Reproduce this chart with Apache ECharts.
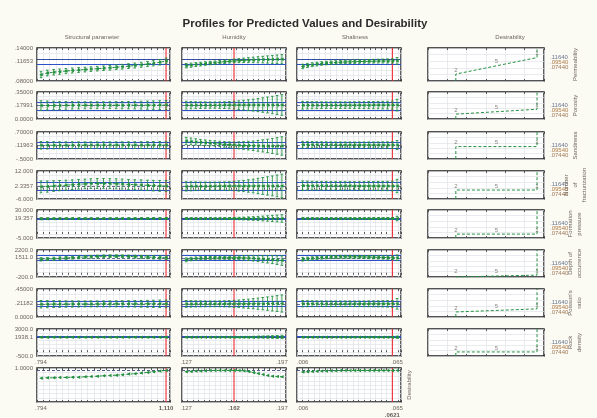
<!DOCTYPE html>
<html>
<head>
<meta charset="utf-8">
<script src="https://cdn.jsdelivr.net/npm/echarts@6/dist/echarts.min.js"></script>
<style>
html,body{margin:0;padding:0;background:#fbfaf3;}
#c{width:597px;height:418px;}
</style>
</head>
<body>
<div id="c"></div>
<script>
// ---- text ----
const chartTitle = 'Profiles for Predicted Values and Desirability';
const factorNames = ['Structural parameter', 'Humidity', 'Shaliness'];
const desirHeader = 'Desirability';
const responseNames = ['Permeability', 'Porosity', 'Sandiness', 'Number\nof\nfracturization',
  'Formation\npressure', 'Depth of\noccurrence', "Poisson's\nratio", 'Rock\ndensity'];

// ---- factor levels (21 steps each) ----
const xStructural = [0.794,0.810,0.826,0.841,0.857,0.873,0.889,0.905,0.920,0.936,0.952,0.968,0.984,0.999,1.015,1.031,1.047,1.063,1.078,1.094,1.110];
const xHumidity = [0.127,0.1305,0.134,0.1375,0.141,0.1445,0.148,0.1515,0.155,0.1585,0.162,0.1655,0.169,0.1725,0.176,0.1795,0.183,0.1865,0.190,0.1935,0.197];
const xShaliness = [0.006,0.00895,0.0119,0.01485,0.0178,0.02075,0.0237,0.02665,0.0296,0.03255,0.0355,0.03845,0.0414,0.04435,0.0473,0.05025,0.0532,0.05615,0.0591,0.06205,0.065];
const xCurrent = [1.110, 0.162, 0.0621];
const xCurrentText = ['1,110', '.162', '.0621'];
const xEndValues = [[0.794], [0.127, 0.197], [0.006, 0.065]];
const xEndText = [['.794'], ['.127', '.197'], ['.006', '.065']];

// ---- response axes ----
const yMin = [0.08, 0, -0.5, -6, -5, -200, 0, -500];
const yMax = [0.14, 0.35, 0.7, 12, 30, 2200, 0.45, 3000];
const yStep = [0.01, 0.05, 0.25, 3, 5, 400, 0.09, 500];
const yPred = [0.11653, 0.17991, 0.11963, 2.3357, 19.357, 1511.0, 0.21182, 1938.1];
const yText = [['.08000', '.11653', '.14000'], ['0.0000', '.17991', '.35000'], ['-.5000', '.11963', '.70000'],
  ['-6.000', '2.3357', '12.000'], ['-5.000', '19.357', '30.000'], ['-200.0', '1511.0', '2200.0'],
  ['0.0000', '.21182', '.45000'], ['-500.0', '1938.1', '3000.0']];
const predLow = [0.1112, 0.1120, -0.02, -0.66, 18.4, 1330, 0.17, 1870];
const predHigh = [0.1220, 0.2160, 0.26, 4.74, 20.3, 1690, 0.26, 2010];

// ---- predicted profiles and confidence half-widths ----
const permS = [0.0915,0.0945,0.0960,0.0970,0.0980,0.0990,0.1000,0.1008,0.1016,0.1024,0.1032,0.1040,0.1050,0.1060,0.1070,0.1082,0.1095,0.1108,0.1122,0.1140,0.1165];
const permSci = [0.0055,0.0052,0.0050,0.0048,0.0046,0.0045,0.0044,0.0043,0.0042,0.0042,0.0042,0.0042,0.0042,0.0043,0.0044,0.0045,0.0046,0.0047,0.0048,0.0050,0.0052];
const permH = [0.1078,0.1088,0.1098,0.1108,0.1118,0.1126,0.1134,0.1142,0.1150,0.1158,0.1165,0.1170,0.1175,0.1179,0.1183,0.1186,0.1189,0.1191,0.1193,0.1195,0.1196];
const permHci = [0.0040,0.0038,0.0036,0.0034,0.0032,0.0031,0.0030,0.0030,0.0031,0.0032,0.0034,0.0037,0.0041,0.0045,0.0050,0.0055,0.0060,0.0066,0.0072,0.0078,0.0084];
const permSh = [0.1065,0.1082,0.1097,0.1109,0.1119,0.1127,0.1133,0.1138,0.1142,0.1146,0.1149,0.1152,0.1154,0.1156,0.1158,0.1160,0.1162,0.1163,0.1164,0.1165,0.1166];
const permShci = [0.0040,0.0038,0.0036,0.0034,0.0033,0.0032,0.0031,0.0031,0.0031,0.0031,0.0031,0.0031,0.0032,0.0032,0.0033,0.0034,0.0035,0.0036,0.0038,0.0040,0.0060];

const poroS = [0.1740,0.1748,0.1755,0.1762,0.1768,0.1773,0.1777,0.1781,0.1784,0.1787,0.1789,0.1791,0.1793,0.1794,0.1795,0.1796,0.1797,0.1798,0.1798,0.1799,0.1799];
const poroSci = [0.062,0.058,0.055,0.052,0.050,0.048,0.047,0.046,0.045,0.045,0.045,0.045,0.046,0.047,0.048,0.049,0.051,0.053,0.055,0.057,0.060];
const poroH = [0.1790,0.1792,0.1794,0.1795,0.1796,0.1797,0.1798,0.1798,0.1799,0.1799,0.1799,0.1800,0.1801,0.1803,0.1805,0.1807,0.1810,0.1812,0.1815,0.1818,0.1820];
const poroHci = [0.050,0.047,0.045,0.043,0.042,0.041,0.041,0.042,0.044,0.047,0.051,0.056,0.062,0.069,0.077,0.085,0.094,0.103,0.113,0.123,0.134];
const poroSh = [0.1780,0.1783,0.1786,0.1788,0.1790,0.1792,0.1793,0.1794,0.1795,0.1796,0.1797,0.1797,0.1798,0.1798,0.1798,0.1799,0.1799,0.1799,0.1799,0.1799,0.1800];
const poroShci = [0.050,0.048,0.046,0.045,0.044,0.043,0.043,0.043,0.043,0.043,0.043,0.044,0.044,0.045,0.046,0.047,0.048,0.049,0.050,0.052,0.075];

const sandS = [0.108,0.110,0.112,0.113,0.114,0.115,0.116,0.117,0.117,0.118,0.118,0.118,0.119,0.119,0.119,0.119,0.119,0.120,0.120,0.120,0.1196];
const sandSci = [0.17,0.165,0.16,0.155,0.15,0.148,0.146,0.145,0.145,0.145,0.145,0.145,0.146,0.147,0.148,0.150,0.152,0.155,0.158,0.161,0.165];
const sandH = [0.300,0.280,0.260,0.240,0.222,0.205,0.190,0.170,0.150,0.135,0.1196,0.110,0.102,0.095,0.090,0.086,0.083,0.081,0.080,0.079,0.078];
const sandHci = [0.16,0.15,0.14,0.13,0.125,0.12,0.12,0.12,0.125,0.13,0.14,0.155,0.17,0.19,0.21,0.24,0.27,0.30,0.33,0.37,0.41];
const sandSh = [0.135,0.134,0.133,0.132,0.131,0.130,0.129,0.128,0.127,0.126,0.125,0.124,0.124,0.123,0.122,0.122,0.121,0.121,0.120,0.1196,0.119];
const sandShci = [0.15,0.145,0.14,0.137,0.135,0.133,0.132,0.131,0.131,0.131,0.131,0.132,0.133,0.134,0.135,0.137,0.139,0.141,0.144,0.147,0.20];

const fracS = [1.8,2.0,2.3,2.6,2.9,3.2,3.5,3.7,3.9,4.0,4.0,3.9,3.8,3.6,3.4,3.2,3.0,2.8,2.6,2.45,2.336];
const fracSci = [3.8,3.6,3.4,3.3,3.2,3.1,3.1,3.1,3.1,3.2,3.2,3.2,3.2,3.2,3.2,3.2,3.3,3.3,3.4,3.5,3.6];
const fracH = [2.1,2.15,2.2,2.22,2.25,2.27,2.29,2.31,2.32,2.33,2.336,2.34,2.35,2.36,2.37,2.38,2.39,2.40,2.41,2.42,2.43];
const fracHci = [3.0,2.9,2.8,2.7,2.65,2.6,2.6,2.65,2.7,2.8,3.0,3.3,3.6,4.0,4.4,4.9,5.4,5.9,6.4,7.0,7.6];
const fracSh = [2.6,2.58,2.56,2.54,2.52,2.50,2.48,2.47,2.46,2.45,2.44,2.43,2.42,2.41,2.40,2.39,2.38,2.37,2.36,2.336,2.33];
const fracShci = [3.0,2.9,2.8,2.75,2.7,2.7,2.7,2.7,2.7,2.7,2.7,2.7,2.7,2.75,2.8,2.85,2.9,2.95,3.0,3.1,4.3];

const pressS = [19.1,19.15,19.2,19.22,19.25,19.27,19.29,19.30,19.31,19.32,19.33,19.34,19.34,19.35,19.35,19.35,19.36,19.36,19.36,19.36,19.357];
const pressSci = [1.3,1.2,1.15,1.1,1.05,1.0,1.0,1.0,1.0,1.0,1.0,1.0,1.0,1.0,1.0,1.05,1.1,1.1,1.15,1.2,1.25];
const pressH = [19.30,19.31,19.32,19.33,19.34,19.35,19.35,19.36,19.36,19.36,19.357,19.36,19.37,19.38,19.39,19.40,19.41,19.42,19.43,19.44,19.45];
const pressHci = [1.2,1.1,1.05,1.0,1.0,1.0,1.0,1.05,1.1,1.2,1.3,1.5,1.7,2.0,2.3,2.6,3.0,3.4,3.8,4.2,4.7];
const pressSh = [19.40,19.40,19.39,19.39,19.38,19.38,19.38,19.37,19.37,19.37,19.37,19.36,19.36,19.36,19.36,19.36,19.36,19.36,19.36,19.357,19.36];
const pressShci = [1.1,1.05,1.0,1.0,1.0,1.0,1.0,1.0,1.0,1.0,1.0,1.0,1.0,1.0,1.0,1.0,1.05,1.1,1.15,1.2,2.8];

const depthS = [1370,1400,1430,1460,1490,1520,1550,1580,1600,1620,1640,1650,1650,1640,1630,1610,1590,1570,1550,1530,1511];
const depthSci = [150,140,135,130,125,120,120,120,120,120,120,120,120,120,120,125,130,135,140,145,150];
const depthH = [1330,1400,1440,1470,1490,1500,1505,1508,1510,1511,1511,1505,1495,1480,1460,1430,1400,1370,1340,1300,1260];
const depthHci = [170,155,145,135,130,125,125,130,135,145,155,170,190,210,235,260,290,320,350,385,420];
const depthSh = [1380,1420,1460,1495,1525,1550,1570,1585,1595,1600,1600,1595,1590,1580,1570,1560,1550,1540,1530,1511,1505];
const depthShci = [160,150,140,135,130,130,130,130,130,130,130,130,130,130,130,135,140,145,150,155,250];

const poissS = [0.205,0.206,0.207,0.208,0.208,0.209,0.209,0.210,0.210,0.210,0.211,0.211,0.211,0.211,0.211,0.212,0.212,0.212,0.212,0.212,0.2118];
const poissSci = [0.060,0.057,0.055,0.053,0.051,0.050,0.049,0.048,0.048,0.048,0.048,0.048,0.049,0.050,0.051,0.052,0.054,0.056,0.058,0.060,0.062];
const poissH = [0.210,0.2105,0.211,0.211,0.2112,0.2114,0.2115,0.2116,0.2117,0.2118,0.2118,0.212,0.2125,0.213,0.2135,0.214,0.2145,0.215,0.2155,0.216,0.2165];
const poissHci = [0.055,0.052,0.050,0.048,0.047,0.046,0.046,0.047,0.049,0.052,0.056,0.061,0.067,0.074,0.082,0.090,0.099,0.108,0.118,0.128,0.138];
const poissSh = [0.214,0.2138,0.2136,0.2134,0.2132,0.213,0.2128,0.2127,0.2126,0.2125,0.2124,0.2123,0.2122,0.2121,0.212,0.212,0.2119,0.2119,0.2118,0.2118,0.2118];
const poissShci = [0.05,0.048,0.047,0.046,0.045,0.045,0.045,0.045,0.045,0.045,0.045,0.045,0.045,0.046,0.047,0.048,0.049,0.050,0.052,0.054,0.085];

const densS = [1930,1931,1932,1933,1934,1934,1935,1935,1936,1936,1936,1937,1937,1937,1937,1938,1938,1938,1938,1938,1938.1];
const densSci = [70,65,62,60,58,57,56,55,55,55,55,55,56,57,58,59,60,62,64,66,68];
const densH = [1936,1936,1936.5,1937,1937,1937.5,1937.5,1938,1938,1938,1938.1,1939,1941,1943,1946,1950,1954,1958,1963,1968,1974];
const densHci = [65,62,60,58,57,56,56,57,59,62,66,72,80,90,102,116,132,150,170,192,216];
const densSh = [1940,1940,1939.5,1939,1939,1939,1938.5,1938.5,1938.5,1938.3,1938.3,1938.2,1938.2,1938.2,1938.1,1938.1,1938.1,1938.1,1938.1,1938.1,1938];
const densShci = [62,60,58,57,56,56,56,56,56,56,56,56,56,56,57,58,59,60,62,64,140];

// overall desirability profiles
const desirS = [0.70,0.71,0.71,0.72,0.72,0.73,0.73,0.74,0.75,0.76,0.77,0.78,0.79,0.80,0.82,0.83,0.85,0.87,0.89,0.91,0.93];
const desirH = [0.89,0.90,0.91,0.915,0.92,0.925,0.93,0.93,0.93,0.93,0.93,0.925,0.92,0.90,0.87,0.84,0.81,0.78,0.76,0.75,0.74];
const desirSh = [0.88,0.89,0.90,0.905,0.91,0.915,0.92,0.92,0.925,0.925,0.925,0.93,0.93,0.93,0.93,0.93,0.93,0.93,0.93,0.93,0.93];
const desirCurrent = 0.93;

// desirability functions of the responses
const respLevels = [0.0744, 0.0954, 0.1164];
const respLevelText = ['.11640', '.09540', '.07440'];
const dLow = [0.21, 0.18, 0.46, 0.32, 0.14, 0.07, 0.18, 0.15];
const dHigh = [0.71, 0.36, 0.46, 0.32, 0.14, 0.07, 0.29, 0.15];
const dPointText = ['2', '5', '1'];

// ---- layout ----
const GREEN = '#24903f', BLUE = '#2d52c8', RED = '#ee2b33', DASH = '#3c4a78';
const GRIDC = '#dfe2e8', TXT = '#6d665c';
const FONT = '"Liberation Sans", Arial, sans-serif';
const colLeft = [37, 182, 297], colWidth = [133, 104, 104];
const desLeft = 428, desWidth = 116;
const rowTop = [48, 92, 132, 171, 210, 250, 289, 329, 368];
const rowHeight = [33, 27, 27, 28, 28, 27, 28, 27, 34];
const xAxisRange = [[0.784, 1.120, 0.016], [0.124, 0.200, 0.004], [0.0025, 0.0675, 0.0035]];

const xLevels = [xStructural, xHumidity, xShaliness];
const profiles = [
  [permS, permH, permSh], [poroS, poroH, poroSh], [sandS, sandH, sandSh], [fracS, fracH, fracSh],
  [pressS, pressH, pressSh], [depthS, depthH, depthSh], [poissS, poissH, poissSh], [densS, densH, densSh]
];
const halfWidths = [
  [permSci, permHci, permShci], [poroSci, poroHci, poroShci], [sandSci, sandHci, sandShci], [fracSci, fracHci, fracShci],
  [pressSci, pressHci, pressShci], [depthSci, depthHci, depthShci], [poissSci, poissHci, poissShci], [densSci, densHci, densShci]
];
const desirProfiles = [desirS, desirH, desirSh];

const grids = [], xAxes = [], yAxes = [], series = [], graphics = [];

function addText(x, y, text, style, extra) {
  graphics.push(Object.assign({
    type: 'text', x: x, y: y, silent: true,
    style: Object.assign({ text: text, fontSize: 6, fontFamily: FONT, fill: TXT, align: 'center', verticalAlign: 'middle' }, style || {})
  }, extra || {}));
}

function addPanel(left, top, width, height, xr, yr) {
  const gi = grids.length;
  grids.push({ left: left, top: top, width: width, height: height, show: true,
    backgroundColor: '#ffffff', borderColor: '#1b1b1b', borderWidth: 1.4 });
  const xBase = {
    gridIndex: gi, type: 'value', min: xr[0], max: xr[1], interval: xr[2],
    axisLine: { show: false }, axisLabel: { show: false },
    axisTick: { show: true, inside: true, length: 2, lineStyle: { color: '#333', width: 0.8 } },
    splitLine: { show: false }
  };
  xAxes.push(Object.assign({}, xBase, { position: 'bottom',
    splitLine: { show: true, lineStyle: { color: GRIDC, width: 0.7 } } }));
  xAxes.push(Object.assign({}, xBase, { position: 'top' }));
  yAxes.push({
    gridIndex: gi, type: 'value', min: yr[0], max: yr[1], interval: yr[2],
    axisLine: { show: false }, axisTick: { show: false }, axisLabel: { show: false },
    splitLine: { show: true, lineStyle: { color: GRIDC, width: 0.7 } }
  });
  return { gi: gi, xi: xAxes.length - 2, yi: yAxes.length - 1 };
}

function errorBars(p, xs, ys, hw) {
  return {
    type: 'custom', xAxisIndex: p.xi, yAxisIndex: p.yi, z: 4, silent: true,
    data: xs.map((x, i) => [x, ys[i] - hw[i], ys[i] + hw[i]]),
    renderItem: function (params, api) {
      const lo = api.coord([api.value(0), api.value(1)]);
      const hi = api.coord([api.value(0), api.value(2)]);
      const c = 1.3, st = { stroke: GREEN, lineWidth: 0.9 };
      return { type: 'group', children: [
        { type: 'line', shape: { x1: lo[0], y1: lo[1], x2: hi[0], y2: hi[1] }, style: st },
        { type: 'line', shape: { x1: lo[0] - c, y1: lo[1], x2: lo[0] + c, y2: lo[1] }, style: st },
        { type: 'line', shape: { x1: hi[0] - c, y1: hi[1], x2: hi[0] + c, y2: hi[1] }, style: st }
      ] };
    }
  };
}

// vertical marker at the current factor setting
function currentLine(p, xc, ymin, ymax) {
  return {
    type: 'line', xAxisIndex: p.xi, yAxisIndex: p.yi, z: 3, silent: true, symbol: 'none',
    data: [[xc, ymin], [xc, ymax]],
    lineStyle: { color: RED, width: 1.1, type: 'solid' }
  };
}

// profile panels
for (let r = 0; r < 9; r++) {
  for (let c = 0; c < 3; c++) {
    const isDesir = r === 8;
    const yr = isDesir ? [0, 1, 0.125] : [yMin[r], yMax[r], yStep[r]];
    const p = addPanel(colLeft[c], rowTop[r], colWidth[c], rowHeight[r], xAxisRange[c], yr);
    const xs = xLevels[c];
    const ys = isDesir ? desirProfiles[c] : profiles[r][c];

    // left axis labels: min, predicted value, max
    if (c === 0) {
      const vals = isDesir ? [1] : [yMin[r], yPred[r], yMax[r]];
      const texts = isDesir ? ['1.0000'] : yText[r];
      Object.assign(yAxes[p.yi].axisLabel, {
        show: true, customValues: vals, margin: 4, fontSize: 6, fontFamily: FONT, color: TXT,
        formatter: function (v) { const k = vals.indexOf(v); return k >= 0 ? texts[k] : ''; }
      });
    }
    // bottom axis labels on the last row
    if (isDesir) {
      const ev = xEndValues[c], et = xEndText[c];
      Object.assign(xAxes[p.xi].axisLabel, {
        show: true, customValues: ev, margin: 3, fontSize: 6, fontFamily: FONT, color: TXT,
        formatter: function (v) { const k = ev.indexOf(v); return k >= 0 ? et[k] : ''; }
      });
      // bold value of the current setting under the marker
      series.push({
        type: 'scatter', xAxisIndex: p.xi, yAxisIndex: p.yi, silent: true, symbolSize: 0, z: 6,
        data: [[xCurrent[c], yr[0]]],
        label: { show: true, position: 'bottom', distance: c === 2 ? 10 : 3, formatter: xCurrentText[c],
          fontSize: 6, fontWeight: 'bold', fontFamily: FONT, color: '#3a352e' }
      });
    }

    const refLines = [];
    if (isDesir) {
      refLines.push({ yAxis: desirCurrent, lineStyle: { color: DASH, type: [3, 2], width: 0.9 } });
    } else {
      refLines.push({ yAxis: predLow[r], lineStyle: { color: BLUE, type: 'solid', width: 1 } });
      refLines.push({ yAxis: predHigh[r], lineStyle: { color: BLUE, type: 'solid', width: 1 } });
      refLines.push({ yAxis: yPred[r], lineStyle: { color: DASH, type: [3, 2], width: 0.8 } });
    }
    series.push(currentLine(p, xCurrent[c], yr[0], yr[1]));

    series.push({
      type: 'line', xAxisIndex: p.xi, yAxisIndex: p.yi, z: 5, silent: true,
      data: xs.map((x, i) => [x, ys[i]]),
      lineStyle: { color: GREEN, width: 1, type: [2.5, 2] },
      symbol: 'triangle', symbolSize: 3.5, symbolRotate: 90,
      itemStyle: { color: GREEN },
      markLine: { silent: true, symbol: 'none', label: { show: false }, z: 3, data: refLines }
    });
    if (!isDesir) series.push(errorBars(p, xs, ys, halfWidths[r][c]));
  }
}

// desirability function panels
for (let r = 0; r < 8; r++) {
  const p = addPanel(desLeft, rowTop[r], desWidth, rowHeight[r], [0.06, 0.12, 0.01], [0, 1, 0.2]);
  const curve = [[respLevels[0], 0], [respLevels[0], dLow[r]], [respLevels[2], dHigh[r]], [respLevels[2], 1]];
  series.push({
    type: 'line', xAxisIndex: p.xi, yAxisIndex: p.yi, z: 5, silent: true, symbol: 'none',
    data: curve, lineStyle: { color: GREEN, width: 1, type: [3, 2] }
  });
  const dMid = (dLow[r] + dHigh[r]) / 2;
  series.push({
    type: 'scatter', xAxisIndex: p.xi, yAxisIndex: p.yi, z: 6, silent: true, symbolSize: 0,
    data: [[respLevels[0], dLow[r]], [respLevels[1], dMid], [respLevels[2], dHigh[r]]],
    label: { show: true, position: 'top', distance: 1, fontSize: 6, fontFamily: FONT, color: TXT,
      formatter: function (pr) { return dPointText[pr.dataIndex]; } }
  });
  // response levels listed beside the panel
  const ly = rowTop[r] + (r === 0 ? 9 : 13);
  const lvColors = ['#6a7590', '#b07a4a', '#a07858'];
  for (let k = 0; k < 3; k++) {
    addText(desLeft + desWidth + 6, ly + k * 5.4, respLevelText[k], { align: 'left', fill: lvColors[k] });
  }
  addText(desLeft + desWidth + 31, rowTop[r] + rowHeight[r] / 2, responseNames[r],
    { align: 'center', lineHeight: 9 }, { rotation: Math.PI / 2, originX: 0, originY: 0 });
}

// headers
addText(305, 24, chartTitle, { fontSize: 11.5, fontWeight: 'bold', fill: '#2b2b2b' });
const headerX = [92, 234, 355];
for (let c = 0; c < 3; c++) addText(headerX[c], 37, factorNames[c]);
addText(510, 37, desirHeader);
addText(409, rowTop[8] + rowHeight[8] / 2, 'Desirability', {}, { rotation: Math.PI / 2 });

const chart = echarts.init(document.getElementById('c'), null, { renderer: 'canvas' });
chart.setOption({
  backgroundColor: '#fbfaf3',
  animation: false,
  grid: grids, xAxis: xAxes, yAxis: yAxes, series: series, graphic: graphics
});
</script>
</body>
</html>
